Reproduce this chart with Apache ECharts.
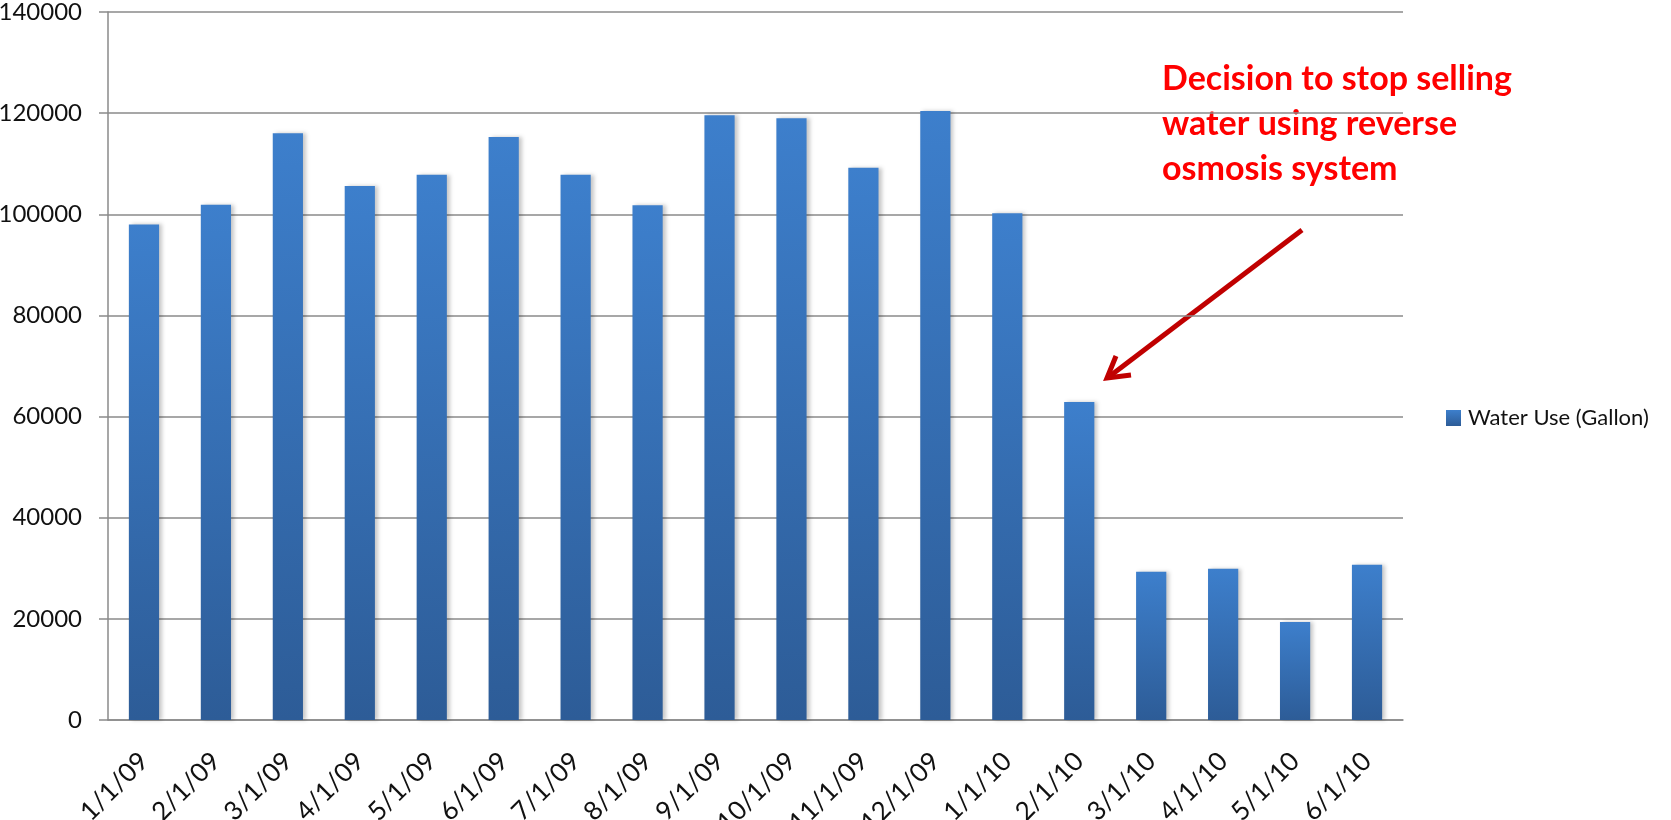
<!DOCTYPE html>
<html>
<head>
<meta charset="utf-8">
<title>Water Use</title>
<script src="https://cdn.jsdelivr.net/npm/echarts@6/dist/echarts.min.js"></script>
<style>
  html, body { margin: 0; padding: 0; background: #fff; }
  #chart { width: 1671px; height: 820px; }
</style>
</head>
<body>
<div id="chart"></div>
<script>
// data
const months = ['1/1/09', '2/1/09', '3/1/09', '4/1/09', '5/1/09', '6/1/09', '7/1/09', '8/1/09', '9/1/09',
  '10/1/09', '11/1/09', '12/1/09', '1/1/10', '2/1/10', '3/1/10', '4/1/10', '5/1/10', '6/1/10']
const waterUse = [98000, 101900, 116000, 105600, 107800, 115300, 107800, 101800, 119600,
  119000, 109200, 120400, 100200, 62900, 29300, 29900, 19400, 30700]
const seriesName = 'Water Use (Gallon)'
const note = 'Decision to stop selling\nwater using reverse\nosmosis system'

const font = 'Lato, "Liberation Sans", sans-serif'
const gray = '#8a8a8a'

const chart = echarts.init(document.getElementById('chart'))
chart.setOption({
  animation: false,
  grid: {
    left: 108,
    top: 12,
    right: 268,
    bottom: 100,
    outerBoundsMode: 'none'
  },
  legend: {
    data: [seriesName],
    left: 1446,
    top: 407,
    padding: 0,
    itemWidth: 15,
    itemHeight: 16,
    icon: 'rect',
    textStyle: { fontFamily: font, fontSize: 22, color: '#111', padding: [0, 0, 0, 2] }
  },
  xAxis: {
    type: 'category',
    data: months,
    axisLine: { lineStyle: { color: gray, width: 1.5 } },
    axisTick: { length: 8, lineStyle: { color: gray, width: 1.5 } },
    axisLabel: {
      rotate: 45,
      margin: 37,
      fontFamily: font,
      fontSize: 26,
      color: '#111',
      interval: 0
    }
  },
  yAxis: {
    type: 'value',
    min: 0,
    max: 140000,
    interval: 20000,
    axisLine: { show: true, lineStyle: { color: gray, width: 1.5 } },
    axisTick: { show: true, length: 9, lineStyle: { color: gray, width: 1.5 } },
    splitLine: { lineStyle: { color: gray, width: 1.5 } },
    axisLabel: {
      margin: 26,
      fontFamily: font,
      fontSize: 24,
      color: '#111',
      formatter: v => String(v)
    }
  },
  series: [
    {
      name: seriesName,
      type: 'bar',
      data: waterUse,
      barWidth: '42%',
      itemStyle: {
        color: new echarts.graphic.LinearGradient(0, 0, 0, 1, [
          { offset: 0, color: '#3d7fcc' },
          { offset: 1, color: '#2d5c97' }
        ]),
        shadowColor: 'rgba(0, 0, 0, 0.22)',
        shadowBlur: 4,
        shadowOffsetX: 3
      }
    }
  ],
  graphic: [
    {
      type: 'text',
      left: 1162,
      top: 57,
      style: {
        text: note,
        fill: '#ff0000',
        fontFamily: font,
        fontWeight: 'bold',
        fontSize: 34,
        lineHeight: 45
      }
    },
    {
      // annotation arrow
      type: 'line',
      shape: { x1: 1302, y1: 230, x2: 1110, y2: 376 },
      style: { stroke: '#c00000', lineWidth: 5 }
    },
    {
      type: 'polyline',
      shape: { points: [[1116, 356], [1107, 378], [1131, 375]] },
      style: { stroke: '#c00000', lineWidth: 5, lineJoin: 'miter', fill: null }
    }
  ]
})
</script>
</body>
</html>
